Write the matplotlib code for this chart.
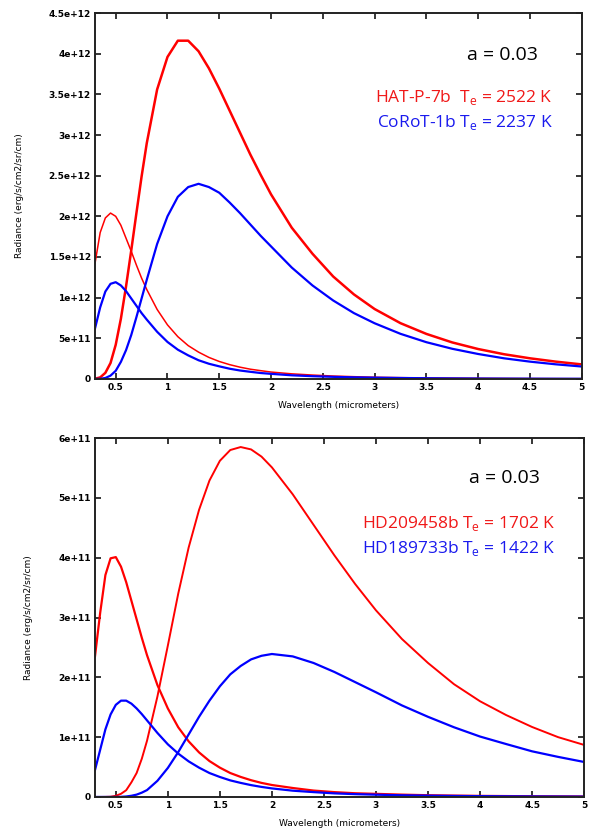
import matplotlib
matplotlib.use("Agg")
import matplotlib.pyplot as plt

# wavelength grid (micrometers) shared by all curves
wl = [0.30, 0.35, 0.40, 0.45, 0.50, 0.55, 0.60, 0.65, 0.70, 0.75, 0.80, 0.90, 1.00,
      1.10, 1.20, 1.30, 1.40, 1.50, 1.60, 1.70, 1.80, 1.90, 2.00, 2.20, 2.40, 2.60,
      2.80, 3.00, 3.25, 3.50, 3.75, 4.00, 4.25, 4.50, 4.75, 5.00]

# top panel, units of 1e12 erg/s/cm2/sr/cm
hat7_thermal = [0.003, 0.019, 0.075, 0.196, 0.42, 0.74, 1.14, 1.58, 2.04, 2.49, 2.90,
                3.56, 3.96, 4.16, 4.16, 4.03, 3.82, 3.57, 3.30, 3.03, 2.76, 2.51, 2.27,
                1.86, 1.54, 1.26, 1.04, 0.86, 0.686, 0.554, 0.449, 0.368, 0.304, 0.254,
                0.213, 0.179]
hat7_reflected = [1.42, 1.80, 1.98, 2.04, 2.00, 1.89, 1.73, 1.57, 1.40, 1.24, 1.10,
                  0.855, 0.665, 0.52, 0.41, 0.33, 0.265, 0.215, 0.176, 0.145, 0.12,
                  0.102, 0.085, 0.063, 0.048, 0.036, 0.028, 0.021, 0.016, 0.012,
                  0.0096, 0.0075, 0.006, 0.0047, 0.004, 0.0032]
corot1_thermal = [0.0, 0.002, 0.012, 0.041, 0.10, 0.21, 0.355, 0.54, 0.76, 0.99, 1.22,
                  1.66, 2.00, 2.24, 2.36, 2.40, 2.36, 2.29, 2.17, 2.04, 1.90, 1.76,
                  1.63, 1.37, 1.15, 0.965, 0.81, 0.685, 0.555, 0.452, 0.371, 0.307,
                  0.254, 0.213, 0.180, 0.153]
corot1_reflected = [0.62, 0.88, 1.075, 1.17, 1.19, 1.15, 1.08, 0.99, 0.90, 0.81, 0.73,
                    0.58, 0.455, 0.36, 0.29, 0.23, 0.187, 0.155, 0.126, 0.104, 0.088,
                    0.073, 0.063, 0.045, 0.034, 0.026, 0.020, 0.016, 0.012, 0.009,
                    0.007, 0.0056, 0.0046, 0.0037, 0.003, 0.0025]

# bottom panel, units of 1e11 erg/s/cm2/sr/cm
hd209_thermal = [0.0, 0.0, 0.001, 0.004, 0.019, 0.053, 0.113, 0.245, 0.40, 0.64, 0.94,
                 1.68, 2.53, 3.40, 4.17, 4.80, 5.29, 5.62, 5.80, 5.85, 5.81, 5.69, 5.51,
                 5.06, 4.55, 4.04, 3.56, 3.12, 2.64, 2.24, 1.885, 1.60, 1.37, 1.17,
                 1.00, 0.87]
hd209_reflected = [2.35, 3.08, 3.71, 3.99, 4.01, 3.85, 3.59, 3.28, 2.97, 2.66, 2.37,
                   1.87, 1.48, 1.165, 0.93, 0.745, 0.60, 0.49, 0.40, 0.335, 0.28, 0.235,
                   0.20, 0.15, 0.107, 0.081, 0.062, 0.052, 0.039, 0.029, 0.023, 0.018,
                   0.015, 0.012, 0.010, 0.008]
hd189_thermal = [0.0, 0.0, 0.0, 0.0, 0.0005, 0.0024, 0.008, 0.02, 0.039, 0.072, 0.115,
                 0.27, 0.485, 0.75, 1.045, 1.34, 1.61, 1.85, 2.05, 2.19, 2.30, 2.36,
                 2.39, 2.35, 2.24, 2.09, 1.92, 1.75, 1.53, 1.34, 1.165, 1.01, 0.885,
                 0.763, 0.67, 0.585]
hd189_reflected = [0.45, 0.79, 1.13, 1.38, 1.54, 1.61, 1.61, 1.56, 1.48, 1.385, 1.28,
                   1.07, 0.88, 0.725, 0.595, 0.49, 0.40, 0.334, 0.277, 0.235, 0.198,
                   0.168, 0.143, 0.105, 0.081, 0.06, 0.047, 0.038, 0.028, 0.022, 0.017,
                   0.0136, 0.011, 0.009, 0.0075, 0.006]

xticks = [0.5, 1, 1.5, 2, 2.5, 3, 3.5, 4, 4.5, 5]
xtick_labels = ["0.5", "1", "1.5", "2", "2.5", "3", "3.5", "4", "4.5", "5"]
top_yticks = [0, 0.5, 1, 1.5, 2, 2.5, 3, 3.5, 4, 4.5]
top_ylabels = ["0", "5e+11", "1e+12", "1.5e+12", "2e+12", "2.5e+12", "3e+12",
               "3.5e+12", "4e+12", "4.5e+12"]
bot_yticks = [0, 1, 2, 3, 4, 5, 6]
bot_ylabels = ["0", "1e+11", "2e+11", "3e+11", "4e+11", "5e+11", "6e+11"]

RED = "#ff0000"
BLUE = "#0000ff"
TXT_RED = "#f01818"
TXT_BLUE = "#1a1aee"
ANNOT_FONT = ["Open Sans", "DejaVu Sans"]


def style_axes(ax, yticks, ylabels, ymax):
    ax.set_xlim(0.3, 5)
    ax.set_ylim(0, ymax)
    ax.set_xticks(xticks)
    ax.set_xticklabels(xtick_labels)
    ax.set_yticks(yticks)
    ax.set_yticklabels(ylabels)
    ax.tick_params(direction="in", top=True, right=True, length=4, width=1.1,
                   labelsize=6.5, pad=3)
    for lab in ax.get_xticklabels() + ax.get_yticklabels():
        lab.set_fontweight("bold")
    for sp in ax.spines.values():
        sp.set_linewidth(1.4)
        sp.set_color("#222222")
    ax.set_xlabel("Wavelength (micrometers)", fontsize=6.5, labelpad=6.5)
    ax.set_ylabel("Radiance (erg/s/cm2/sr/cm)", fontsize=6.5, labelpad=18)


def annotate(ax, ya, y1, y2, name1, t1, name2, t2):
    ax.text(0.91, ya, "a = 0.03", transform=ax.transAxes, ha="right",
            fontsize=14, family=ANNOT_FONT, color="black")
    ax.text(0.94, y1, name1 + r" T$_\mathregular{e}$ = " + t1, transform=ax.transAxes,
            ha="right", fontsize=12.5, family=ANNOT_FONT, color=TXT_RED)
    ax.text(0.94, y2, name2 + r" T$_\mathregular{e}$ = " + t2, transform=ax.transAxes,
            ha="right", fontsize=12.5, family=ANNOT_FONT, color=TXT_BLUE)


fig = plt.figure(figsize=(5.9, 8.36), dpi=100)

ax1 = fig.add_axes([0.161, 0.5467, 0.825, 0.4377])
ax1.plot(wl, hat7_thermal, color=RED, lw=1.8)
ax1.plot(wl, hat7_reflected, color=RED, lw=1.1)
ax1.plot(wl, corot1_thermal, color=BLUE, lw=1.6)
ax1.plot(wl, corot1_reflected, color=BLUE, lw=1.6)
style_axes(ax1, top_yticks, top_ylabels, 4.5)
annotate(ax1, 0.872, 0.757, 0.689, "HAT-P-7b ", "2522 K", "CoRoT-1b", "2237 K")

ax2 = fig.add_axes([0.161, 0.0467, 0.829, 0.4293])
ax2.plot(wl, hd209_thermal, color=RED, lw=1.4)
ax2.plot(wl, hd209_reflected, color=RED, lw=1.6)
ax2.plot(wl, hd189_thermal, color=BLUE, lw=1.6)
ax2.plot(wl, hd189_reflected, color=BLUE, lw=1.6)
style_axes(ax2, bot_yticks, bot_ylabels, 6)
annotate(ax2, 0.875, 0.749, 0.680, "HD209458b", "1702 K", "HD189733b", "1422 K")

fig.savefig("out.png", dpi=100)
